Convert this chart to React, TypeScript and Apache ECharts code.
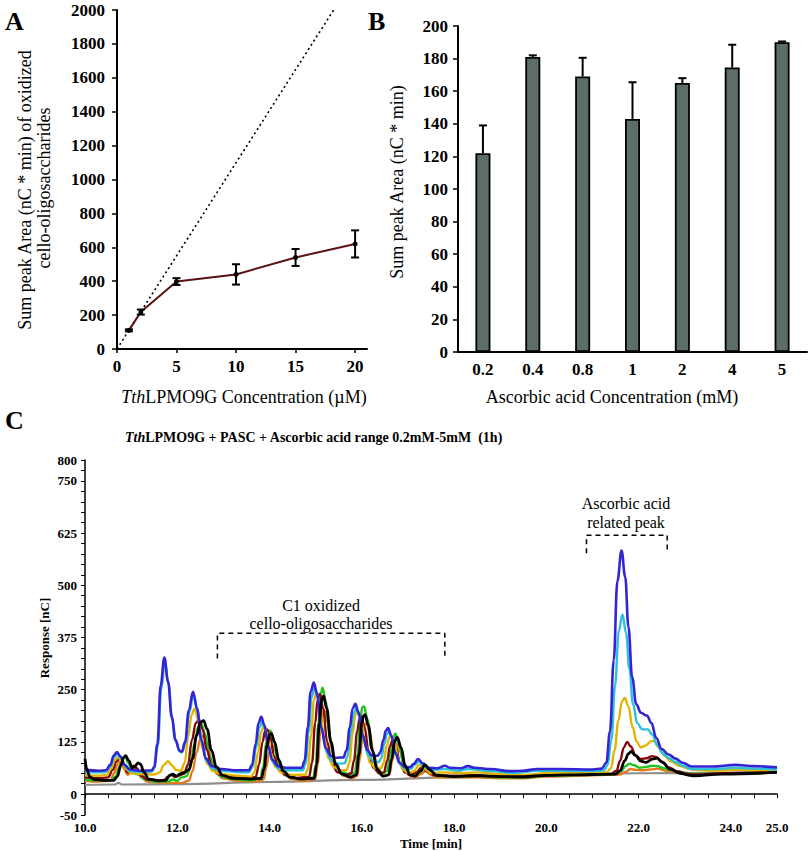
import React, { useEffect, useRef } from "react";
import * as echarts from "echarts";

const FONT = "Liberation Serif";

// ---------- Panel A ----------
const A_X = [1, 2, 5, 10, 15, 20];
const A_Y = [110, 218, 398, 440, 540, 620];
const A_ERR = [6, 15, 20, 60, 50, 80];
const A_THEORY = [[0, 0], [18.2, 2000]];

// ---------- Panel B ----------
const B_CATS = ["0.2", "0.4", "0.8", "1", "2", "4", "5"];
const B_VALS = [122, 181, 169, 143, 165, 174.5, 190];
const B_ERR = [17, 1, 11.5, 22.5, 3, 14, 0.5];

// ---------- Panel C ----------
const C_X_LABELS = [10, 12, 14, 16, 18, 20, 22, 24, 25];
const C_Y_LABELS = [800, 750, 625, 500, 375, 250, 125, 0, -50];

const C_BLUE = [[10.0,58],[10.3,56],[10.45,57],[10.55,70],[10.62,92],[10.69,101],[10.77,90],[10.86,70],[10.97,59],[11.2,56],[11.45,57],[11.5,65],[11.57,120],[11.64,260],[11.72,327],[11.8,270],[11.88,185],[11.96,130],[12.05,104],[12.1,102],[12.17,125],[12.25,200],[12.34,245],[12.43,205],[12.52,130],[12.62,85],[12.75,67],[12.95,60],[13.3,57],[13.55,57],[13.62,70],[13.7,120],[13.76,170],[13.82,185],[13.89,165],[13.97,115],[14.06,82],[14.18,67],[14.35,63],[14.7,63],[14.76,80],[14.83,160],[14.89,245],[14.96,267],[15.03,240],[15.12,160],[15.22,110],[15.33,92],[15.45,87],[15.6,88],[15.67,105],[15.74,160],[15.8,205],[15.86,216],[15.93,195],[16.02,140],[16.12,105],[16.22,93],[16.35,92],[16.4,100],[16.47,130],[16.52,152],[16.57,158],[16.64,140],[16.72,100],[16.82,75],[16.95,64],[17.05,65],[17.12,72],[17.22,84],[17.32,74],[17.45,63],[17.65,62],[17.8,68],[17.92,63],[18.15,62],[18.3,67],[18.45,63],[18.8,60],[19.2,55],[19.5,56],[19.8,60],[20.3,60],[21.0,59],[21.2,61],[21.3,75],[21.38,150],[21.46,320],[21.54,510],[21.63,583],[21.71,520],[21.78,400],[21.86,280],[21.95,215],[22.05,195],[22.18,188],[22.28,170],[22.38,135],[22.5,108],[22.65,95],[22.8,85],[22.95,75],[23.15,66],[23.6,66],[24.1,70],[24.5,67],[25.0,64]];
const C_CYAN = [[10.0,53],[10.3,52],[10.45,53],[10.55,66],[10.63,88],[10.7,96],[10.78,85],[10.87,66],[10.98,55],[11.2,53],[11.45,54],[11.5,62],[11.58,115],[11.65,250],[11.73,316],[11.81,262],[11.89,180],[11.97,127],[12.05,102],[12.1,100],[12.18,122],[12.26,195],[12.35,238],[12.44,198],[12.53,125],[12.63,80],[12.76,62],[12.95,56],[13.3,53],[13.55,52],[13.63,64],[13.71,112],[13.78,160],[13.84,174],[13.91,155],[13.99,108],[14.08,75],[14.2,61],[14.4,57],[14.72,57],[14.78,72],[14.85,150],[14.91,232],[14.98,255],[15.05,228],[15.14,150],[15.24,100],[15.35,80],[15.5,73],[15.63,74],[15.69,90],[15.76,145],[15.82,192],[15.88,205],[15.95,185],[16.04,130],[16.14,93],[16.25,79],[16.37,77],[16.42,85],[16.49,120],[16.54,143],[16.59,150],[16.66,132],[16.74,95],[16.84,70],[16.97,59],[17.07,61],[17.14,70],[17.24,78],[17.34,68],[17.47,57],[17.8,60],[18.1,56],[18.3,60],[18.8,55],[19.3,51],[19.8,56],[20.3,56],[21.0,55],[21.25,57],[21.33,70],[21.41,130],[21.49,260],[21.57,390],[21.65,430],[21.73,385],[21.8,300],[21.88,215],[21.97,170],[22.08,155],[22.2,155],[22.3,142],[22.4,118],[22.52,98],[22.66,86],[22.8,77],[22.95,68],[23.15,60],[23.6,60],[24.1,63],[24.5,61],[25.0,59]];
const C_YELLOW = [[10.0,45],[10.3,44],[10.47,46],[10.57,62],[10.65,82],[10.72,88],[10.8,78],[10.89,60],[11.0,50],[11.2,48],[11.5,47],[11.62,52],[11.71,70],[11.8,79],[11.89,68],[11.98,58],[12.08,56],[12.16,75],[12.24,140],[12.31,190],[12.38,205],[12.46,175],[12.55,110],[12.65,72],[12.78,55],[12.95,48],[13.3,44],[13.6,42],[13.67,52],[13.75,100],[13.82,150],[13.88,165],[13.95,145],[14.03,98],[14.12,66],[14.25,52],[14.5,46],[14.78,47],[14.83,60],[14.9,140],[14.96,225],[15.02,245],[15.09,215],[15.18,135],[15.28,85],[15.4,64],[15.55,57],[15.67,58],[15.73,75],[15.8,145],[15.86,190],[15.92,200],[15.99,175],[16.08,115],[16.18,75],[16.3,61],[16.42,62],[16.47,75],[16.54,115],[16.6,136],[16.64,140],[16.71,120],[16.8,80],[16.9,58],[17.02,50],[17.12,55],[17.25,70],[17.36,60],[17.5,50],[17.8,52],[18.2,50],[18.5,52],[19.0,48],[19.5,46],[20.0,50],[20.5,51],[21.3,52],[21.4,62],[21.48,105],[21.56,175],[21.64,222],[21.7,230],[21.78,210],[21.87,160],[21.96,125],[22.05,112],[22.15,116],[22.27,127],[22.34,127],[22.44,112],[22.56,92],[22.7,78],[22.88,68],[23.05,62],[23.2,58],[23.6,56],[24.1,58],[25.0,57]];
const C_RED = [[10.0,40],[10.3,38],[10.5,40],[10.6,58],[10.68,78],[10.75,86],[10.83,72],[10.92,52],[10.98,52],[11.05,68],[11.12,62],[11.22,44],[11.35,35],[11.6,33],[11.72,34],[11.8,42],[11.87,46],[11.95,41],[12.05,45],[12.15,49],[12.23,70],[12.32,130],[12.4,170],[12.47,178],[12.55,155],[12.64,105],[12.75,65],[12.9,47],[13.1,41],[13.5,38],[13.7,41],[13.77,70],[13.85,125],[13.9,150],[13.95,155],[14.02,135],[14.1,90],[14.2,60],[14.35,45],[14.6,39],[14.86,42],[14.92,75],[14.99,170],[15.04,225],[15.09,240],[15.16,205],[15.25,125],[15.35,72],[15.48,52],[15.65,46],[15.77,50],[15.83,80],[15.9,150],[15.95,180],[15.99,185],[16.06,160],[16.15,100],[16.25,63],[16.38,50],[16.48,52],[16.55,80],[16.61,115],[16.67,130],[16.74,112],[16.83,72],[16.94,52],[17.05,45],[17.18,52],[17.3,64],[17.42,54],[17.57,45],[18.0,44],[18.5,45],[19.0,42],[19.5,40],[20.0,45],[20.5,47],[21.4,48],[21.52,56],[21.6,80],[21.68,112],[21.75,125],[21.83,114],[21.93,94],[22.05,84],[22.17,86],[22.3,91],[22.38,89],[22.5,78],[22.65,64],[22.85,54],[23.05,49],[23.2,47],[23.8,50],[25.0,53]];
const C_GREEN = [[10.0,35],[10.3,33],[10.55,33],[10.66,42],[10.75,65],[10.82,86],[10.87,90],[10.94,75],[11.02,55],[11.1,48],[11.18,46],[11.28,36],[11.5,30],[11.8,30],[11.9,35],[12.0,32],[12.1,40],[12.2,43],[12.28,62],[12.37,120],[12.45,160],[12.52,168],[12.6,145],[12.69,95],[12.8,58],[12.95,42],[13.2,36],[13.6,33],[13.8,37],[13.86,65],[13.93,125],[13.98,150],[14.02,152],[14.09,130],[14.17,85],[14.27,55],[14.42,42],[14.7,36],[14.95,40],[15.0,70],[15.06,170],[15.11,240],[15.15,255],[15.22,220],[15.31,135],[15.41,78],[15.55,55],[15.72,47],[15.85,52],[15.91,95],[15.97,180],[16.01,208],[16.05,210],[16.12,180],[16.21,110],[16.31,65],[16.45,50],[16.55,55],[16.62,95],[16.68,135],[16.73,145],[16.8,120],[16.9,75],[17.0,52],[17.12,45],[17.25,52],[17.36,62],[17.47,52],[17.62,44],[18.0,43],[18.5,44],[19.0,40],[19.5,39],[20.0,44],[21.0,46],[21.5,48],[21.62,55],[21.72,67],[21.8,73],[21.9,69],[22.02,63],[22.15,65],[22.3,68],[22.4,67],[22.55,62],[22.8,55],[23.2,48],[24.0,50],[25.0,53]];
const C_ORANGE = [[10.0,32],[10.3,30],[10.55,32],[10.63,50],[10.7,70],[10.76,78],[10.84,62],[10.93,46],[10.99,52],[11.05,66],[11.12,62],[11.22,40],[11.35,30],[11.6,28],[11.9,27],[12.1,27],[12.25,32],[12.33,55],[12.42,100],[12.5,132],[12.57,140],[12.65,122],[12.74,82],[12.85,50],[13.0,37],[13.3,32],[13.7,30],[13.87,35],[13.93,65],[13.99,100],[14.04,113],[14.08,115],[14.15,100],[14.23,68],[14.33,46],[14.48,36],[14.75,32],[14.99,36],[15.05,75],[15.1,150],[15.15,192],[15.19,200],[15.26,172],[15.35,108],[15.45,65],[15.6,44],[15.78,38],[15.9,43],[15.96,85],[16.02,145],[16.06,165],[16.1,170],[16.17,148],[16.26,95],[16.36,57],[16.5,43],[16.6,47],[16.66,80],[16.72,110],[16.76,120],[16.83,102],[16.92,66],[17.03,45],[17.15,40],[17.28,48],[17.38,55],[17.49,47],[17.64,40],[18.0,40],[18.5,40],[19.0,38],[19.5,38],[20.0,42],[21.0,45],[21.6,47],[21.72,53],[21.82,60],[21.95,58],[22.1,57],[22.25,59],[22.4,61],[22.6,56],[23.0,50],[23.2,46],[24.0,49],[25.0,52]];
const C_BLACK = [[10.0,85],[10.04,60],[10.1,42],[10.2,35],[10.4,33],[10.62,33],[10.7,42],[10.78,70],[10.84,88],[10.88,92],[10.95,80],[11.02,63],[11.08,66],[11.15,75],[11.2,72],[11.28,52],[11.38,36],[11.6,32],[11.75,33],[11.84,45],[11.9,48],[11.98,43],[12.07,49],[12.15,52],[12.25,58],[12.33,85],[12.42,140],[12.5,172],[12.57,176],[12.65,155],[12.74,105],[12.85,65],[12.98,45],[13.2,38],[13.6,36],[13.82,38],[13.88,60],[13.95,118],[14.0,142],[14.04,145],[14.11,125],[14.2,82],[14.3,55],[14.45,40],[14.7,36],[14.97,38],[15.02,70],[15.08,170],[15.13,225],[15.17,235],[15.24,205],[15.33,125],[15.43,72],[15.57,48],[15.75,41],[15.88,46],[15.94,95],[16.0,170],[16.04,188],[16.07,190],[16.14,165],[16.23,105],[16.33,60],[16.46,43],[16.58,46],[16.65,85],[16.71,125],[16.75,135],[16.77,136],[16.85,112],[16.94,68],[17.05,46],[17.15,43],[17.27,55],[17.37,70],[17.47,58],[17.62,45],[18.0,42],[18.5,44],[19.0,42],[19.5,42],[20.0,45],[20.5,46],[21.5,48],[21.6,56],[21.7,80],[21.78,97],[21.84,102],[21.93,93],[22.05,79],[22.16,76],[22.3,84],[22.4,86],[22.52,76],[22.68,60],[22.9,50],[23.1,45],[23.2,44],[23.8,48],[25.0,52]];
const C_GRAY = [[10.0,22],[10.65,23],[10.72,27],[10.8,23],[12.0,24],[14.0,29],[16.0,34],[18.0,40],[20.0,46],[22.0,50],[25.0,53]];

const C_BRACKET_1 = [[12.87, 325], [12.87, 385], [17.8, 385], [17.8, 325]];
const C_BRACKET_2 = [[20.87, 577], [20.87, 620], [22.62, 620], [22.62, 577]];

const C_SERIES = [
  { name: "gray", data: C_GRAY, color: "#8e8e8e", width: 2.2 },
  { name: "orange", data: C_ORANGE, color: "#e8761c", width: 2.4 },
  { name: "green", data: C_GREEN, color: "#1fc41f", width: 2.4 },
  { name: "red", data: C_RED, color: "#860808", width: 2.4 },
  { name: "yellow", data: C_YELLOW, color: "#e2b400", width: 2.4 },
  { name: "cyan", data: C_CYAN, color: "#2cc0da", width: 2.4 },
  { name: "blue", data: C_BLUE, color: "#3324d4", width: 2.6 },
  { name: "black", data: C_BLACK, color: "#000000", width: 2.8 },
];

export default function App() {
  const ref = useRef<HTMLDivElement>(null);
  useEffect(() => {
    if (!ref.current) return;
    const chart = echarts.init(ref.current, null, { renderer: "svg" });
    const axisBlack = { lineStyle: { color: "#000", width: 2 } };
    const labBold = (size: number, margin: number) => ({
      color: "#000", fontFamily: FONT, fontWeight: "bold", fontSize: size, margin,
    });
    const center = { align: "center", verticalAlign: "middle", textAlign: "center", textVerticalAlign: "middle" };
    const plain = (v: number) => String(v);

    const option: any = {
      animation: false,
      backgroundColor: "#fff",
      grid: [
        { left: 117, top: 10, width: 250, height: 339 },
        { left: 458, top: 26, width: 349, height: 326 },
        { left: 85, top: 460, width: 692, height: 355 },
      ],
      xAxis: [
        {
          gridIndex: 0, type: "value", min: 0, max: 21, interval: 5,
          axisLine: axisBlack,
          axisTick: { show: true, length: 4, lineStyle: { color: "#000", width: 1.5 } },
          axisLabel: { ...labBold(17, 9), showMaxLabel: false, formatter: plain },
          splitLine: { show: false },
        },
        {
          gridIndex: 1, type: "category", data: B_CATS,
          axisLine: axisBlack,
          axisTick: { show: false },
          axisLabel: labBold(17, 9),
        },
        {
          gridIndex: 2, type: "value", min: 10, max: 25, interval: 0.5,
          axisLine: { lineStyle: { color: "#000", width: 1.5 } },
          axisTick: { show: true, length: 4, lineStyle: { color: "#000", width: 1 } },
          axisLabel: {
            ...labBold(13, 6),
            formatter: (v: number) => (C_X_LABELS.some((l) => Math.abs(l - v) < 1e-6) ? v.toFixed(1) : ""),
          },
          splitLine: { show: false },
        },
      ],
      yAxis: [
        {
          gridIndex: 0, type: "value", min: 0, max: 2000, interval: 200,
          axisLine: { show: true, ...axisBlack },
          axisTick: { show: true, length: 5, lineStyle: { color: "#000", width: 1.5 } },
          axisLabel: { ...labBold(17, 12), formatter: plain },
          splitLine: { show: false },
        },
        {
          gridIndex: 1, type: "value", min: 0, max: 200, interval: 20,
          axisLine: { show: true, ...axisBlack },
          axisTick: { show: true, length: 5, lineStyle: { color: "#000", width: 1.5 } },
          axisLabel: { ...labBold(17, 10), formatter: plain },
          splitLine: { show: false },
        },
        {
          gridIndex: 2, type: "value", min: -50, max: 800, interval: 25,
          axisLine: { show: true, lineStyle: { color: "#000", width: 1.5 } },
          axisTick: { show: true, length: 4, lineStyle: { color: "#000", width: 1 } },
          axisLabel: {
            ...labBold(13, 8),
            formatter: (v: number) => (C_Y_LABELS.includes(v) ? String(v) : ""),
          },
          splitLine: { show: false },
        },
      ],
      series: [
        {
          type: "line", xAxisIndex: 0, yAxisIndex: 0,
          data: A_THEORY, symbol: "none",
          lineStyle: { color: "#000", width: 1.6, type: [2, 3] },
          z: 2,
        },
        {
          type: "line", xAxisIndex: 0, yAxisIndex: 0,
          data: A_X.map((x, i) => [x, A_Y[i]]),
          symbol: "circle", symbolSize: 5,
          itemStyle: { color: "#000" },
          lineStyle: { color: "#5a1212", width: 2 },
          z: 3,
        },
        {
          type: "custom", xAxisIndex: 0, yAxisIndex: 0,
          data: A_X.map((x, i) => [x, A_Y[i] - A_ERR[i], A_Y[i] + A_ERR[i]]),
          renderItem: (params: any, api: any) => {
            const x = api.value(0);
            const lo = api.coord([x, api.value(1)]);
            const hi = api.coord([x, api.value(2)]);
            const w = 4;
            const st = { stroke: "#000", lineWidth: 2 };
            return {
              type: "group",
              children: [
                { type: "line", shape: { x1: lo[0], y1: lo[1], x2: hi[0], y2: hi[1] }, style: st },
                { type: "line", shape: { x1: lo[0] - w, y1: lo[1], x2: lo[0] + w, y2: lo[1] }, style: st },
                { type: "line", shape: { x1: hi[0] - w, y1: hi[1], x2: hi[0] + w, y2: hi[1] }, style: st },
              ],
            };
          },
          z: 4,
        },
        {
          type: "bar", xAxisIndex: 1, yAxisIndex: 1,
          data: B_VALS, barWidth: 15,
          itemStyle: { color: "#5d6e6a", borderColor: "#000", borderWidth: 1.8 },
          z: 2,
        },
        {
          type: "custom", xAxisIndex: 1, yAxisIndex: 1,
          data: B_VALS.map((v, i) => [i, v, v + B_ERR[i]]),
          renderItem: (params: any, api: any) => {
            const i = api.value(0);
            const lo = api.coord([i, api.value(1)]);
            const hi = api.coord([i, api.value(2)]);
            const w = 4;
            const st = { stroke: "#000", lineWidth: 2 };
            return {
              type: "group",
              children: [
                { type: "line", shape: { x1: lo[0], y1: lo[1], x2: hi[0], y2: hi[1] }, style: st },
                { type: "line", shape: { x1: hi[0] - w, y1: hi[1], x2: hi[0] + w, y2: hi[1] }, style: st },
              ],
            };
          },
          z: 3,
        },
        ...C_SERIES.map((s, k) => ({
          type: "line", xAxisIndex: 2, yAxisIndex: 2, name: s.name,
          data: s.data, symbol: "none", smooth: 0.4, smoothMonotone: "x",
          lineStyle: { color: s.color, width: s.width },
          z: 2 + k,
        })),
        {
          type: "line", xAxisIndex: 2, yAxisIndex: 2,
          data: C_BRACKET_1, symbol: "none",
          lineStyle: { color: "#000", width: 1.5, type: [5, 4] }, z: 20,
        },
        {
          type: "line", xAxisIndex: 2, yAxisIndex: 2,
          data: C_BRACKET_2, symbol: "none",
          lineStyle: { color: "#000", width: 1.5, type: [5, 4] }, z: 20,
        },
      ],
      graphic: [
        { type: "text", left: 5, top: 8, style: { text: "A", fontFamily: FONT, fontWeight: "bold", fontSize: 26, fill: "#000" } },
        { type: "text", left: 368, top: 8, style: { text: "B", fontFamily: FONT, fontWeight: "bold", fontSize: 26, fill: "#000" } },
        { type: "text", left: 5, top: 407, style: { text: "C", fontFamily: FONT, fontWeight: "bold", fontSize: 26, fill: "#000" } },
        { type: "text", x: 25, y: 190, rotation: Math.PI / 2,
          style: { text: "Sum peak Area (nC * min) of oxidized", fontFamily: FONT, fontSize: 18, fill: "#000", ...center } },
        { type: "text", x: 44, y: 188, rotation: Math.PI / 2,
          style: { text: "cello-oligosaccharides", fontFamily: FONT, fontSize: 18, fill: "#000", ...center } },
        {
          type: "text", x: 244, y: 397,
          style: {
            text: "{i|Tth}{n|LPMO9G Concentration (µM)}",
            rich: {
              i: { fontFamily: FONT, fontSize: 18, fontStyle: "italic", fill: "#000", color: "#000" },
              n: { fontFamily: FONT, fontSize: 18, fill: "#000", color: "#000" },
            },
            fontFamily: FONT, fontSize: 18, fill: "#000", ...center,
          },
        },
        { type: "text", x: 397, y: 182, rotation: Math.PI / 2,
          style: { text: "Sum peak Area (nC * min)", fontFamily: FONT, fontSize: 18, fill: "#000", ...center } },
        { type: "text", x: 612, y: 397,
          style: { text: "Ascorbic acid Concentration (mM)", fontFamily: FONT, fontSize: 18, fill: "#000", ...center } },
        {
          type: "text", x: 125, y: 437,
          style: {
            text: "{i|Tth}{n|LPMO9G + PASC + Ascorbic acid range 0.2mM-5mM  (1h)}",
            rich: {
              i: { fontFamily: FONT, fontSize: 14, fontWeight: "bold", fontStyle: "italic", fill: "#000", color: "#000" },
              n: { fontFamily: FONT, fontSize: 14, fontWeight: "bold", fill: "#000", color: "#000" },
            },
            fontFamily: FONT, fontSize: 14, fontWeight: "bold", fill: "#000",
            align: "left", verticalAlign: "middle", textAlign: "left", textVerticalAlign: "middle",
          },
        },
        { type: "text", x: 44, y: 638, rotation: Math.PI / 2,
          style: { text: "Response [nC]", fontFamily: FONT, fontSize: 13, fontWeight: "bold", fill: "#000", ...center } },
        { type: "text", x: 431, y: 843,
          style: { text: "Time [min]", fontFamily: FONT, fontSize: 13, fontWeight: "bold", fill: "#000", ...center } },
        { type: "text", x: 321, y: 605,
          style: { text: "C1 oxidized", fontFamily: FONT, fontSize: 16, fill: "#000", ...center } },
        { type: "text", x: 321, y: 623,
          style: { text: "cello-oligosaccharides", fontFamily: FONT, fontSize: 16, fill: "#000", ...center } },
        { type: "text", x: 626, y: 503,
          style: { text: "Ascorbic acid", fontFamily: FONT, fontSize: 16, fill: "#000", ...center } },
        { type: "text", x: 626, y: 522,
          style: { text: "related peak", fontFamily: FONT, fontSize: 16, fill: "#000", ...center } },
      ],
    };
    chart.setOption(option);
    return () => chart.dispose();
  }, []);

  return (
    <div
      ref={ref}
      style={{ position: "absolute", left: 0, top: 0, width: 810, height: 851, background: "#fff" }}
    />
  );
}
